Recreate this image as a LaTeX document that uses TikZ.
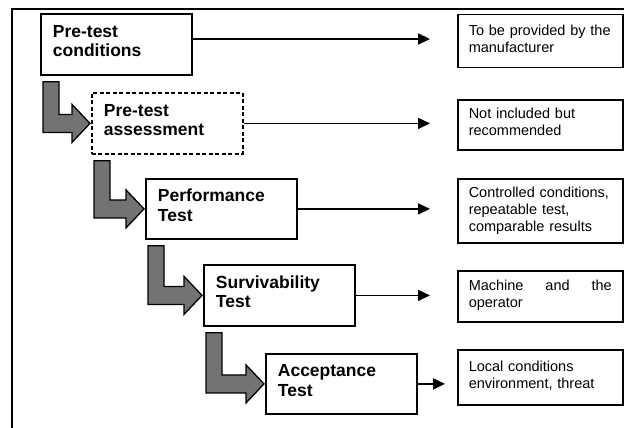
\documentclass[tikz,border=0pt]{standalone}
\usepackage{fontspec}
\setmainfont{Liberation Sans}
\usetikzlibrary{arrows.meta,calc}
\newcommand{\bentarrow}[2]{%
  \draw[bent] let \p1=(#1.south west), \p2=(#2.west) in
    (\x1+3pt,\y1-6pt) -- (\x1+19pt,\y1-6pt) -- (\x1+19pt,\y2+9pt)
    -- (\x2-19pt,\y2+9pt) -- (\x2-19pt,\y2+19pt) -- (\x2-1pt,\y2)
    -- (\x2-19pt,\y2-19pt) -- (\x2-19pt,\y2-9pt) -- (\x1+3pt,\y2-9pt) -- cycle;}
\newcommand{\lowpad}[1]{\rule[-#1]{0pt}{#1}}
\begin{document}
\begin{tikzpicture}[x=1pt,y=-1pt,
  stage/.style={draw, line width=1.8pt, anchor=north west, minimum height=#1,
    inner xsep=12pt, inner ysep=0pt, text width=127pt, align=left,
    font=\fontsize{17.5}{19.5}\selectfont\bfseries},
  note/.style={draw, line width=1.5pt, anchor=north west, minimum height=#1,
    inner xsep=11pt, inner ysep=0pt, text width=143pt, align=left,
    font=\fontsize{14.5}{17}\selectfont},
  conn/.style={line width=1.6pt, -{Triangle[length=12pt,width=11pt]}},
  bent/.style={fill=black!55, draw=black, line width=1.3pt, line join=miter}]
\useasboundingbox (0,0) rectangle (624,428);
% outer frame
\draw[line width=1.6pt] (12,430) -- (12,9) -- (626,9);
% stage boxes
\node[stage=61pt] (b1) at (40,13) {Pre-test\\conditions\lowpad{7pt}};
\node[stage=61pt, dash pattern=on 4pt off 2.5pt] (b2) at (91,92) {Pre-test\\assessment\lowpad{7pt}};
\node[stage=60pt] (b3) at (145,178) {Performance\\Test\lowpad{7pt}};
\node[stage=61pt] (b4) at (203,264) {Survivability\\Test\lowpad{7pt}};
\node[stage=60pt] (b5) at (265,353) {Acceptance\\Test\lowpad{7pt}};
% note boxes
\node[note=53pt] (r1) at (457,14) {To be provided by the\\manufacturer\lowpad{6pt}};
\node[note=50pt] (r2) at (457,99) {Not included but\\recommended\lowpad{6pt}};
\node[note=64pt] (r3) at (457,178) {Controlled conditions,\\repeatable test,\\comparable results};
\node[note=51pt] (r4) at (457,270) {Machine\hfill and\hfill the\\operator\lowpad{6pt}};
\node[note=55pt] (r5) at (457,349) {Local conditions\\environment, threat\lowpad{6pt}};
% arrow ends
\coordinate (ax) at (430,0);
\coordinate (bx) at (445,0);
\coordinate (t1) at (430,39);
\coordinate (t2) at (b2.east -| ax);
\coordinate (t3) at (b3.east -| ax);
\coordinate (t4) at (b4.east -| ax);
\coordinate (t5) at (b5.east -| bx);
\draw[conn, line width=2.2pt] (b1.east |- t1) -- (t1);
\draw[conn] (b2.east) -- (t2);
\draw[conn] (b3.east) -- (t3);
\draw[conn] (b4.east) -- (t4);
\draw[conn] (b5.east) -- (t5);
% bent arrows
\bentarrow{b1}{b2}
\bentarrow{b2}{b3}
\bentarrow{b3}{b4}
\bentarrow{b4}{b5}
\end{tikzpicture}
\end{document}
